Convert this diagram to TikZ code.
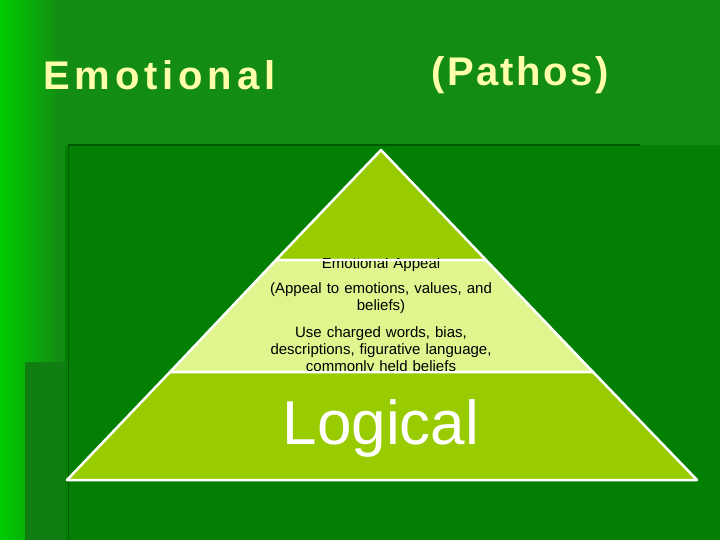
\documentclass[tikz,border=0pt]{standalone}
\usepackage{fontspec}
\setmainfont{Liberation Sans}
\definecolor{bgA}{HTML}{138C13}
\definecolor{bgB}{HTML}{037F03}
\definecolor{olive}{HTML}{99CC00}
\definecolor{pale}{HTML}{E1F58F}
\definecolor{ttl}{HTML}{FFFFAA}
\begin{document}
\begin{tikzpicture}[x=1pt,y=-1pt,
  tier/.style={draw=white,line width=2.5pt,line join=round},
  title/.style={font=\bfseries\fontsize{40}{46}\selectfont\addfontfeature{LetterSpace=6},text=ttl,anchor=west},
  small/.style={font=\fontsize{15}{17}\selectfont,align=center,text width=250pt,inner sep=0pt}]
\useasboundingbox (0,0) rectangle (720,540);
\fill[bgA] (0,0) rectangle (720,540);
\fill[left color=green!80!black,right color=bgA] (0,0) rectangle (60,540);
\fill[bgB] (65,145) rectangle (720,540);
\fill[bgA!90!black] (25,362) rectangle (65,540);
\draw[green!35!black,line width=1.5pt] (68,145) -- (640,145);
\draw[green!35!black,line width=1pt] (68,145) -- (68,540);
\node[title,font=\bfseries\fontsize{40}{46}\selectfont\addfontfeature{LetterSpace=12}] (t1) at (40,75) {Emotional};
\node[title] (t2) at (428,75) {(Pathos)};
\filldraw[tier,fill=olive] (381,150) -- (486,260) -- (276,260) -- cycle;
\filldraw[tier,fill=pale] (276,260) -- (486,260) -- (593,372) -- (170,372) -- cycle;
\filldraw[tier,fill=olive] (170,372) -- (593,372) -- (697,480) -- (67,480) -- cycle;
\begin{scope}
\clip (170,258) rectangle (593,371);
\node[small] (e1) at (381,265) {Emotional Appeal};
\node[small] (e2) at (381,298) {(Appeal to emotions, values, and\\ beliefs)};
\node[small] (e3) at (381,351) {Use charged words, bias,\\ descriptions, figurative language,\\ commonly held beliefs};
\end{scope}
\filldraw[tier,fill=none] (276,260) -- (486,260) (593,372) -- (170,372);
\node[font=\fontsize{62}{70}\selectfont,text=white] (lg) at (381,428) {Logical};
\end{tikzpicture}
\end{document}
